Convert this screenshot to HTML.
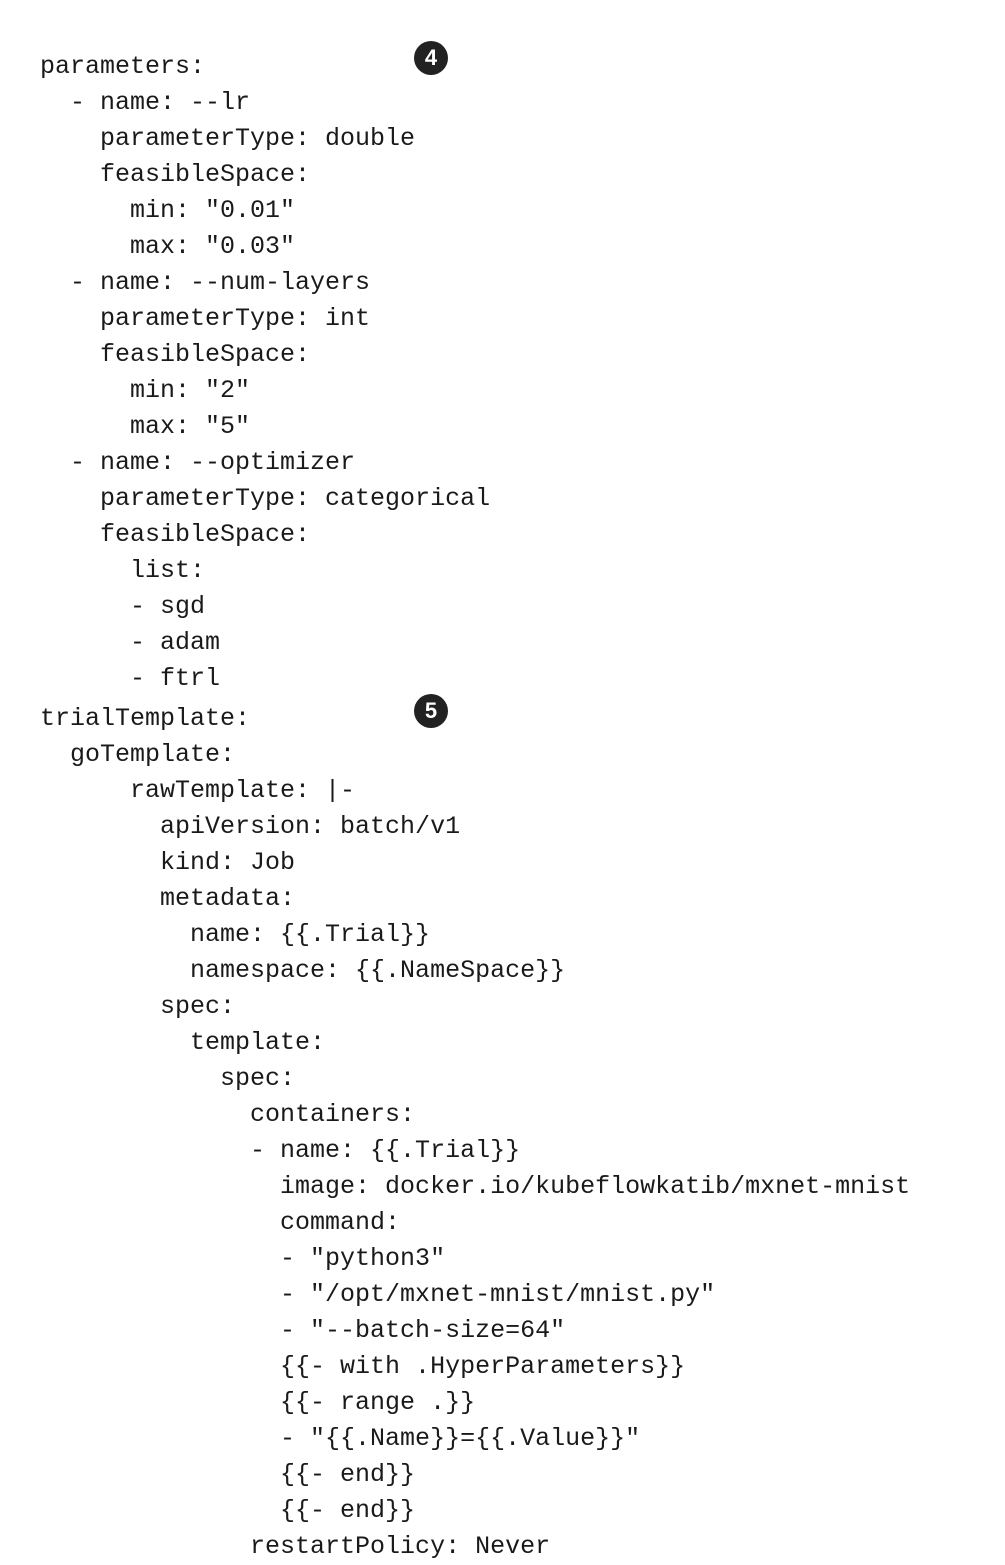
<!DOCTYPE html>
<html><head><meta charset="utf-8"><style>
html,body{margin:0;padding:0;background:#fff;width:1005px;height:1560px;overflow:hidden}
pre{position:absolute;left:40px;margin:0;font-family:"Liberation Mono",monospace;font-size:25px;line-height:36px;color:#1a1a1a}
.c{position:absolute;width:34px;height:34px;border-radius:50%;background:#222;color:#fff;font-family:"Liberation Sans",sans-serif;font-weight:bold;font-size:22px;line-height:34px;text-align:center}
</style></head><body>
<pre style="top:49px">parameters:
  - name: --lr
    parameterType: double
    feasibleSpace:
      min: "0.01"
      max: "0.03"
  - name: --num-layers
    parameterType: int
    feasibleSpace:
      min: "2"
      max: "5"
  - name: --optimizer
    parameterType: categorical
    feasibleSpace:
      list:
      - sgd
      - adam
      - ftrl</pre>
<pre style="top:701px">trialTemplate:
  goTemplate:
      rawTemplate: |-
        apiVersion: batch/v1
        kind: Job
        metadata:
          name: {{.Trial}}
          namespace: {{.NameSpace}}
        spec:
          template:
            spec:
              containers:
              - name: {{.Trial}}
                image: docker.io/kubeflowkatib/mxnet-mnist
                command:
                - "python3"
                - "/opt/mxnet-mnist/mnist.py"
                - "--batch-size=64"
                {{- with .HyperParameters}}
                {{- range .}}
                - "{{.Name}}={{.Value}}"
                {{- end}}
                {{- end}}
              restartPolicy: Never</pre>
<div class="c" style="left:414px;top:41px">4</div>
<div class="c" style="left:414px;top:694px">5</div>
</body></html>
